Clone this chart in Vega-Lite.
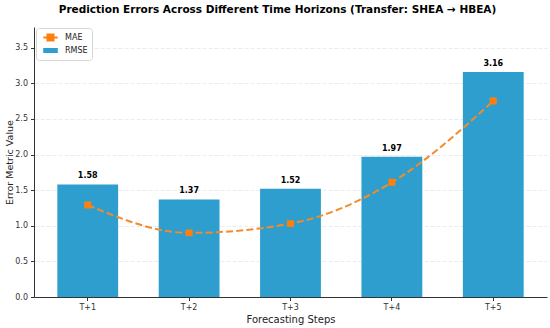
{
  "$schema": "https://vega.github.io/schema/vega-lite/v6.json",
  "autosize": "none",
  "width": 513,
  "height": 270,
  "padding": {"left": 34, "top": 27, "right": 3, "bottom": 31},
  "background": "white",
  "title": {
    "text": "Prediction Errors Across Different Time Horizons (Transfer: SHEA → HBEA)",
    "font": "DejaVu Sans",
    "fontSize": 10.5,
    "fontWeight": "bold",
    "color": "#000000",
    "anchor": "middle",
    "frame": "group",
    "dx": -13,
    "offset": 12
  },
  "data": {
    "values": [
      {"step": "T+1", "metric": "RMSE", "value": 1.58},
      {"step": "T+2", "metric": "RMSE", "value": 1.37},
      {"step": "T+3", "metric": "RMSE", "value": 1.52},
      {"step": "T+4", "metric": "RMSE", "value": 1.97},
      {"step": "T+5", "metric": "RMSE", "value": 3.16},
      {"step": "T+1", "metric": "MAE", "value": 1.29},
      {"step": "T+2", "metric": "MAE", "value": 0.9},
      {"step": "T+3", "metric": "MAE", "value": 1.03},
      {"step": "T+4", "metric": "MAE", "value": 1.61},
      {"step": "T+5", "metric": "MAE", "value": 2.75}
    ]
  },
  "encoding": {
    "x": {
      "field": "step",
      "type": "nominal",
      "scale": {"paddingInner": 0.4, "paddingOuter": 0.23},
      "axis": {
        "title": "Forecasting Steps",
        "labelAngle": 0,
        "titleFontSize": 10,
        "titleFontWeight": "normal",
        "titleFont": "DejaVu Sans",
        "titleColor": "#222",
        "titlePadding": 3
      }
    },
    "y": {
      "field": "value",
      "type": "quantitative",
      "scale": {"domain": [0, 3.79], "nice": false, "zero": true},
      "axis": {
        "title": "Error Metric Value",
        "values": [0, 0.5, 1, 1.5, 2, 2.5, 3, 3.5],
        "format": ".1f",
        "grid": true,
        "gridColor": "#e6e6e6",
        "gridDash": [4, 2],
        "gridWidth": 0.8,
        "titleFontSize": 9.5,
        "titleFontWeight": "normal",
        "titleFont": "DejaVu Sans",
        "titleColor": "#222",
        "titlePadding": 0
      }
    }
  },
  "layer": [
    {
      "transform": [{"filter": "datum.metric === 'RMSE'"}],
      "mark": {"type": "bar", "fill": "#2e9ecf", "opacity": 1},
      "encoding": {
        "color": {
          "field": "metric",
          "type": "nominal",
          "scale": {"domain": ["MAE", "RMSE"], "range": ["#ff7f0e", "#2e9ecf"]},
          "legend": {
            "title": null,
            "orient": "none",
            "legendX": 2,
            "legendY": 1,
            "fillColor": "white",
            "strokeColor": "#d6d6d6",
            "cornerRadius": 3,
            "padding": 4,
            "rowPadding": 0,
            "labelFont": "DejaVu Sans",
            "labelFontSize": 8,
            "labelColor": "#222",
            "labelOffset": 9,
            "symbolOffset": 5,
            "symbolSize": 81,
            "symbolStrokeWidth": 2,
            "symbolOpacity": 1
          }
        }
      }
    },
    {
      "transform": [{"filter": "datum.metric === 'RMSE'"}],
      "mark": {"type": "text", "baseline": "bottom", "dy": -4, "font": "DejaVu Sans", "fontSize": 8, "fontWeight": "bold", "color": "#000"},
      "encoding": {
        "text": {"field": "value", "type": "quantitative", "format": ".2f"}
      }
    },
    {
      "transform": [{"filter": "datum.metric === 'MAE'"}],
      "mark": {"type": "line", "interpolate": "monotone", "stroke": "#f28c2a", "strokeWidth": 2, "strokeDash": [7, 3.2]},
      "encoding": {
        "color": {"field": "metric", "type": "nominal"}
      }
    },
    {
      "transform": [{"filter": "datum.metric === 'MAE'"}],
      "mark": {"type": "point", "filled": true, "size": 108, "strokeWidth": 0, "opacity": 1},
      "encoding": {
        "color": {"field": "metric", "type": "nominal"},
        "shape": {
          "field": "metric",
          "type": "nominal",
          "scale": {"domain": ["MAE", "RMSE"], "range": ["M-1.6,0H1.6M-0.67,-0.67H0.67V0.67H-0.67Z", "M-1.4,-0.32H1.4V0.32H-1.4Z"]}
        }
      }
    }
  ],
  "config": {
    "view": {"stroke": null},
    "axis": {
      "labelFont": "DejaVu Sans",
      "labelFontSize": 8,
      "labelColor": "#333",
      "domainColor": "#333",
      "tickColor": "#333",
      "tickSize": 3.5,
      "labelPadding": 3
    },
    "axisX": {"grid": false}
  }
}
